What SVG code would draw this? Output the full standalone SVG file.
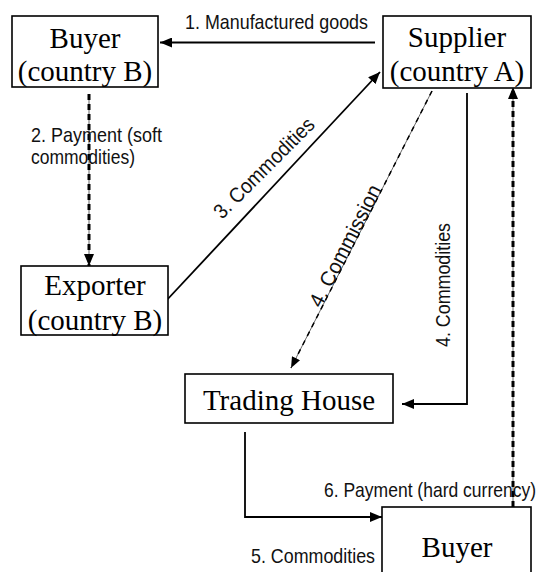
<svg xmlns="http://www.w3.org/2000/svg" width="540" height="572" viewBox="0 0 540 572">
<style>
.box{fill:#fff;stroke:#000;stroke-width:1.6}
.nt{font-family:"Liberation Serif","Times New Roman",serif;font-size:29px;fill:#000;text-anchor:middle}
.lb{font-family:"Liberation Sans Narrow","Liberation Sans",Arial,sans-serif;font-size:21px;fill:#111}
.solid{fill:none;stroke:#000;stroke-width:1.8}
.thin{fill:none;stroke:#666;stroke-width:1}
.dash{fill:none;stroke:#000;stroke-width:3;stroke-dasharray:6 4}
.dash2{fill:none;stroke:#000;stroke-width:1.5;stroke-dasharray:5 5}
</style>
<defs>
<marker id="ah" markerUnits="userSpaceOnUse" markerWidth="12" markerHeight="10" refX="12" refY="5" orient="auto"><path d="M0,0 L12,5 L0,10 z" fill="#000"/></marker>
<marker id="ahs" markerUnits="userSpaceOnUse" markerWidth="11" markerHeight="9" refX="11" refY="4.5" orient="auto"><path d="M0,0 L11,4.5 L0,9 z" fill="#000"/></marker>
</defs>
<rect width="540" height="572" fill="#fff"/>
<g id="connectors">
<line class="solid" x1="375" y1="42.5" x2="160" y2="42.5" marker-end="url(#ah)"/>
<line class="thin" x1="89" y1="94" x2="89" y2="258"/>
<line class="dash" x1="89" y1="94" x2="89" y2="266" marker-end="url(#ah)"/>
<line class="solid" x1="165" y1="302" x2="380" y2="72" marker-end="url(#ah)"/>
<line class="thin" x1="432" y1="91" x2="295" y2="360"/>
<line class="dash2" x1="432" y1="91" x2="291" y2="368" marker-end="url(#ahs)"/>
<path class="solid" d="M467,93 V404 H402" marker-end="url(#ah)"/>
<path class="solid" d="M245,432 V517 H382" marker-end="url(#ah)"/>
<line class="thin" x1="513" y1="507" x2="513" y2="96"/>
<line class="dash" x1="513" y1="507" x2="513" y2="87" marker-end="url(#ah)"/>
<text class="lb" x="185" y="29" textLength="183" lengthAdjust="spacingAndGlyphs">1.  Manufactured goods</text>
<text class="lb" x="31" y="142" textLength="131" lengthAdjust="spacingAndGlyphs">2.  Payment (soft</text>
<text class="lb" x="31" y="164" textLength="104" lengthAdjust="spacingAndGlyphs">commodities)</text>
<text class="lb" x="269" y="173" text-anchor="middle" textLength="133" lengthAdjust="spacingAndGlyphs" transform="rotate(-45 269 173)">3. Commodities</text>
<text class="lb" x="351.5" y="249" text-anchor="middle" textLength="134" lengthAdjust="spacingAndGlyphs" transform="rotate(-63 351.5 249)">4. Commission</text>
<text class="lb" x="450" y="285" text-anchor="middle" textLength="124" lengthAdjust="spacingAndGlyphs" transform="rotate(-90 450 285)">4.  Commodities</text>
<text class="lb" x="324" y="497" textLength="212" lengthAdjust="spacingAndGlyphs">6.  Payment (hard currency)</text>
<text class="lb" x="251" y="563" textLength="124" lengthAdjust="spacingAndGlyphs">5.  Commodities</text>
</g>
<g id="buyer-b">
<rect class="box" x="12" y="16" width="146" height="71"/>
<text class="nt" x="85" y="48">Buyer</text>
<text class="nt" x="85" y="81">(country B)</text>
</g>
<g id="supplier-a">
<rect class="box" x="383" y="16" width="148" height="72"/>
<text class="nt" x="457" y="47">Supplier</text>
<text class="nt" x="457" y="81">(country A)</text>
</g>
<g id="exporter-b">
<rect class="box" x="21" y="266" width="147" height="69"/>
<text class="nt" x="95" y="295">Exporter</text>
<text class="nt" x="95" y="330">(country B)</text>
</g>
<g id="trading-house">
<rect class="box" x="185" y="374" width="208" height="49"/>
<text class="nt" x="289" y="410">Trading House</text>
</g>
<g id="buyer">
<rect class="box" x="382" y="507" width="149" height="80"/>
<text class="nt" x="457" y="557">Buyer</text>
</g>
</svg>
